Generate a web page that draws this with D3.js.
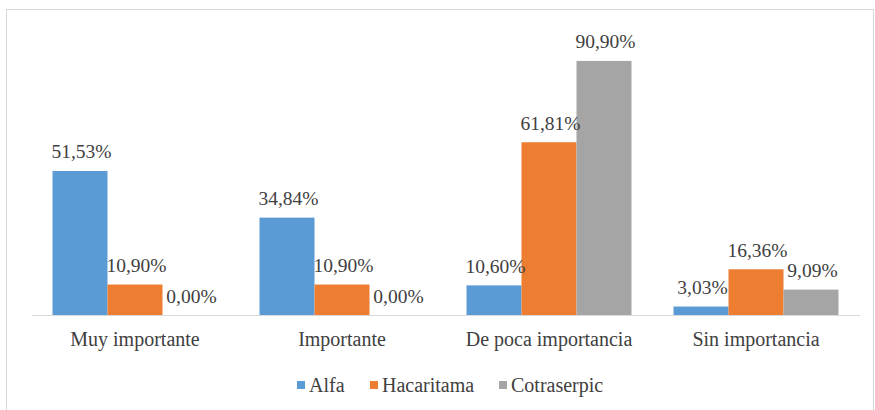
<!DOCTYPE html>
<html>
<head>
<meta charset="utf-8">
<script src="https://cdn.jsdelivr.net/npm/d3@7"></script>
<style>
  html, body { margin: 0; padding: 0; background: #fff; }
  svg { display: block; }
</style>
</head>
<body>
<svg id="chart" width="875" height="410"></svg>
<script>
// Categories and series values (percent)
const categories = ["Muy importante", "Importante", "De poca importancia", "Sin importancia"];
const seriesNames = ["Alfa", "Hacaritama", "Cotraserpic"];
const alfa = [51.53, 34.84, 10.60, 3.03];
const hacaritama = [10.90, 10.90, 61.81, 16.36];
const cotraserpic = [0.00, 0.00, 90.90, 9.09];
const colors = ["#5B9BD5", "#ED7D31", "#A5A5A5"];

const series = [alfa, hacaritama, cotraserpic];

const svg = d3.select("#chart");
const serif = '"Liberation Serif"';
const textColor = "#404040";

// Chart frame
svg.append("rect")
  .attr("x", 6.5).attr("y", 9.5)
  .attr("width", 867).attr("height", 420)
  .attr("fill", "#fff")
  .attr("stroke", "#d9d9d9")
  .attr("stroke-width", 1);

const plot = { left: 31.5, right: 859.5, top: 35.5, bottom: 315 };

const x0 = d3.scaleBand()
  .domain(categories)
  .range([plot.left, plot.right])
  .paddingInner(0)
  .paddingOuter(0);

const x1 = d3.scaleBand()
  .domain(seriesNames)
  .range([0, x0.bandwidth()])
  .paddingInner(0)
  .paddingOuter(0.382);

const y = d3.scaleLinear()
  .domain([0, 100])
  .range([plot.bottom, plot.top]);

const fmt = v => v.toFixed(2).replace(".", ",") + "%";

// Bars
const groups = svg.append("g").selectAll("g")
  .data(categories)
  .join("g")
  .attr("transform", d => `translate(${x0(d)},0)`);

groups.selectAll("rect")
  .data((c, i) => seriesNames.map((s, j) => ({ s, j, v: series[j][i] })))
  .join("rect")
  .attr("x", d => x1(d.s))
  .attr("width", x1.bandwidth())
  .attr("y", d => y(d.v))
  .attr("height", d => y(0) - y(d.v))
  .attr("fill", d => colors[d.j]);

// Value labels
groups.selectAll("text")
  .data((c, i) => seriesNames.map((s, j) => ({ s, j, v: series[j][i] })))
  .join("text")
  .attr("x", d => x1(d.s) + x1.bandwidth() / 2 + 1.5)
  .attr("y", d => y(d.v) - 12.5)
  .attr("text-anchor", "middle")
  .style("font-family", serif)
  .attr("font-size", 19.5)
  .attr("fill", textColor)
  .text(d => fmt(d.v));

// Category axis
const xAxis = svg.append("g")
  .attr("transform", `translate(0,${plot.bottom})`)
  .call(d3.axisBottom(x0).tickSize(0).tickPadding(17));
xAxis.attr("font-family", serif);
xAxis.select(".domain").attr("stroke", "#d9d9d9").attr("stroke-width", 1.2);
xAxis.selectAll("text")
  .style("font-family", serif)
  .attr("font-size", 20)
  .attr("fill", textColor);

// Legend
const legendItems = [
  { name: "Alfa", x: 297 },
  { name: "Hacaritama", x: 370 },
  { name: "Cotraserpic", x: 499 }
];
const legend = svg.append("g");
legendItems.forEach((it, j) => {
  legend.append("rect")
    .attr("x", it.x).attr("y", 381)
    .attr("width", 8).attr("height", 8)
    .attr("fill", colors[j]);
  legend.append("text")
    .attr("x", it.x + 12).attr("y", 392)
    .style("font-family", serif)
    .attr("font-size", 20)
    .attr("fill", textColor)
    .text(seriesNames[j]);
});
</script>
</body>
</html>
